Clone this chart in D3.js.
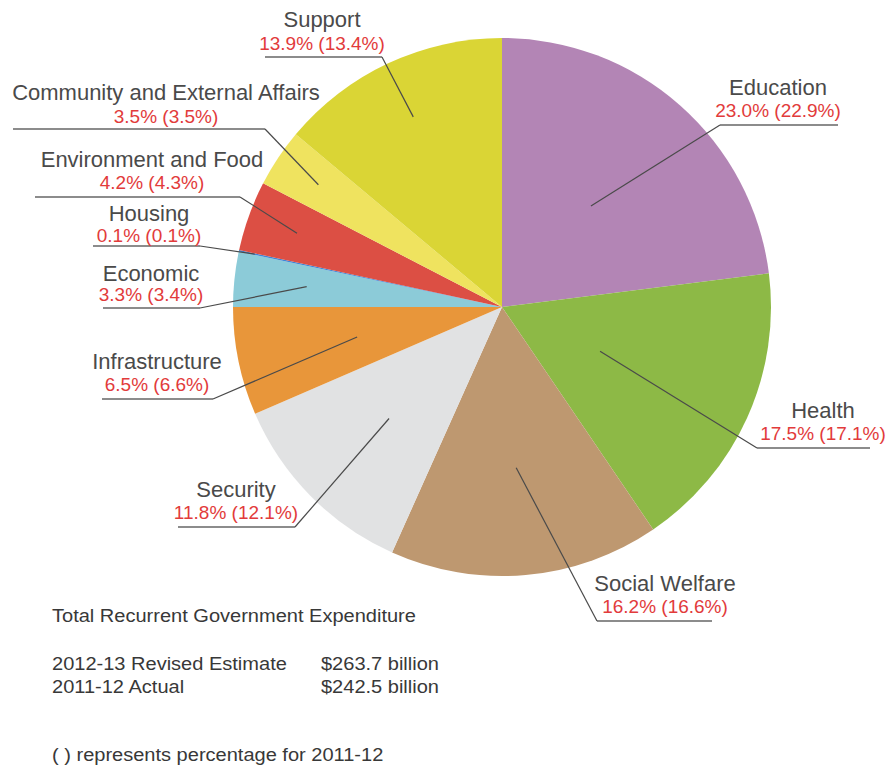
<!DOCTYPE html>
<html>
<head>
<meta charset="utf-8">
<script src="https://cdn.jsdelivr.net/npm/d3@7"></script>
<style>
  html, body { margin: 0; padding: 0; background: #fff; }
  svg { display: block; }
  text { font-family: "Liberation Sans", Arial, Helvetica, sans-serif; }
</style>
</head>
<body>
<svg id="chart" width="890" height="769"></svg>
<script>
// ---- Data ----
const categories = ["Education", "Health", "Social Welfare", "Security", "Infrastructure",
  "Economic", "Housing", "Environment and Food", "Community and External Affairs", "Support"];
const share2012 = [23.0, 17.5, 16.2, 11.8, 6.5, 3.3, 0.1, 4.2, 3.5, 13.9];
const share2011 = [22.9, 17.1, 16.6, 12.1, 6.6, 3.4, 0.1, 4.3, 3.5, 13.4];
const colors = ["#b385b5", "#8db946", "#be9870", "#e1e2e3", "#e8963a",
  "#8ccbd8", "#3f86d6", "#dc4f44", "#efe35f", "#dad535"];
const totalTitle = "Total Recurrent Government Expenditure";
const totalRows = [["2012-13 Revised Estimate", "$263.7 billion"], ["2011-12 Actual", "$242.5 billion"]];
const footnote = "( ) represents percentage for 2011-12";

// ---- Label layout (positions only) ----
// inner: fraction of radius for leader start; cx: text centre; uy: underline y; x1,x2: underline extent;
// end: which underline end the leader meets; nd/pd: name / percent baseline offsets above underline
const labelLayout = [
  {inner: 0.50, cx: 778, uy: 125, x1: 720, x2: 838, end: "x1", nd: 30, pd: 8},
  {inner: 0.40, cx: 823, uy: 448, x1: 757, x2: 870, end: "x1", nd: 30, pd: 8},
  {inner: 0.60, cx: 665, uy: 621, x1: 597, x2: 712, end: "x1", nd: 30, pd: 8},
  {inner: 0.59, cx: 236, uy: 527, x1: 178, x2: 295, end: "x2", nd: 30, pd: 8},
  {inner: 0.55, cx: 157, uy: 399, x1: 102, x2: 213, end: "x2", nd: 30, pd: 8},
  {inner: 0.73, cx: 151, uy: 308, x1: 103, x2: 200, end: "x2", nd: 27, pd: 7},
  {inner: 0.94, cx: 149, uy: 246, x1: 93,  x2: 200, end: "x2", nd: 25, pd: 4.5},
  {inner: 0.81, cx: 152, uy: 197, x1: 35,  x2: 240, end: "x2", nd: 30, pd: 8},
  {inner: 0.82, cx: 166, uy: 129, x1: 13,  x2: 265, end: "x2", nd: 29, pd: 6},
  {inner: 0.78, cx: 322, uy: 57,  x1: 265, x2: 382, end: "x2", nd: 30, pd: 7.5}
];

const svg = d3.select("#chart");
const cx = 502, cy = 307, R = 269;

const rows = categories.map((c, i) => ({name: c, v: share2012[i], p: share2011[i], color: colors[i], L: labelLayout[i]}));

const pie = d3.pie().sort(null).value(d => d.v).startAngle(0).endAngle(2 * Math.PI);
const arc = d3.arc().innerRadius(0).outerRadius(R);
const arcs = pie(rows);

const g = svg.append("g").attr("transform", `translate(${cx},${cy})`);
g.selectAll("path.slice").data(arcs).enter().append("path")
  .attr("class", "slice")
  .attr("d", arc)
  .attr("fill", d => d.data.color);

// leader lines + underlines + labels
const lab = svg.append("g");
arcs.forEach(a => {
  const L = a.data.L;
  const mid = (a.startAngle + a.endAngle) / 2;
  const r = R * L.inner;
  const ix = cx + r * Math.sin(mid), iy = cy - r * Math.cos(mid);
  const ex = L.end === "x1" ? L.x1 : L.x2;
  lab.append("line")
    .attr("x1", L.x1).attr("x2", L.x2).attr("y1", L.uy).attr("y2", L.uy)
    .attr("stroke", "#8c8c8c").attr("stroke-width", 1.8);
  lab.append("line")
    .attr("x1", ex).attr("y1", L.uy).attr("x2", ix).attr("y2", iy)
    .attr("stroke", "#4a4a4a").attr("stroke-width", 1.2);
  lab.append("text")
    .attr("x", L.cx).attr("y", L.uy - L.nd)
    .attr("text-anchor", "middle")
    .attr("font-size", 22).attr("fill", "#4a4a4a")
    .text(a.data.name);
  lab.append("text")
    .attr("x", L.cx).attr("y", L.uy - L.pd)
    .attr("text-anchor", "middle")
    .attr("font-size", 19).attr("fill", "#e23b3b")
    .text(`${a.data.v.toFixed(1)}% (${a.data.p.toFixed(1)}%)`);
});

// totals block
const tb = svg.append("g").attr("transform", "translate(52,0) scale(1.145,1)").attr("fill", "#383838").attr("font-size", 17.5);
tb.append("text").attr("x", 0).attr("y", 622).text(totalTitle);
totalRows.forEach((r, i) => {
  tb.append("text").attr("x", 0).attr("y", 670 + i * 23).text(r[0]);
  tb.append("text").attr("x", (321 - 52) / 1.145).attr("y", 670 + i * 23).text(r[1]);
});
tb.append("text").attr("x", 0).attr("y", 761).text(footnote);
</script>
</body>
</html>
